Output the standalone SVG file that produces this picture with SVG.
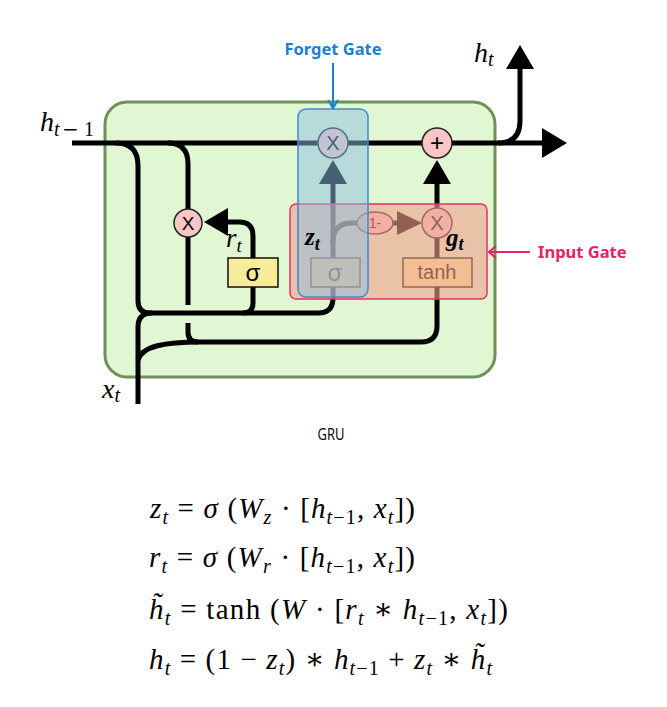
<svg xmlns="http://www.w3.org/2000/svg" width="667" height="707" viewBox="0 0 667 707">
<style>
.ln{fill:none;stroke:#000;stroke-width:5}
.ah{fill:#000}
.circ{fill:#f8c6c6;stroke:#222;stroke-width:1.5}
.sig{fill:#f7ec9a;stroke:#111;stroke-width:1.5}
.sym{font-family:"Liberation Sans","DejaVu Sans",sans-serif;text-anchor:middle}
.math{font-family:"Liberation Serif","DejaVu Serif",serif;font-style:italic}
.rm{font-style:normal}
.lbl{font-family:"Noto Sans","Open Sans",sans-serif;font-weight:bold;font-size:16.5px}
</style>
<rect width="667" height="707" fill="#fff"/>

<g id="cell">
<rect x="105" y="102" width="390" height="275" rx="22" fill="#e1f6d3" stroke="#6e9157" stroke-width="3"/>
</g>

<g id="connectors">
<path class="ln" d="M72 143 L545 143"/>
<polygon class="ah" points="542,128 567,143 542,158"/>
<path class="ln" d="M498 143 Q520 143 520 121 L520 68"/>
<polygon class="ah" points="506,69 520,45 534,69"/>
<path class="ln" d="M116 143 Q138 143 138 166 L138 301 Q138 313 150 313 L318 313 Q333 313 333 298 L333 287"/>
<path class="ln" d="M138 404 L138 327 Q138 313 152 313"/>
<path class="ln" d="M138 360 C142 346 165 342 200 342 L421 342 Q437 342 437 326 L437 287"/>
<path class="ln" d="M168 143 Q188 143 188 164 L188 209"/>
<path class="ln" d="M188 237 L188 305"/>
<path class="ln" d="M188 323 L188 332 Q188 342 198 342"/>
<path class="ln" d="M253 287 L253 303 Q253 313 243 313"/>
<path class="ln" d="M253 258 L253 236 Q253 222 239 222 L226 222"/>
<polygon class="ah" points="228,208 204,222 228,236"/>
<path class="ln" d="M333 258 L333 183"/>
<polygon class="ah" points="319,184 333,160 347,184"/>
<path class="ln" d="M333 242 Q333 223 352 223 L360 223"/>
<path class="ln" d="M392 223 L399 223"/>
<polygon class="ah" points="397,211 422,223 397,235"/>
<path class="ln" d="M437 208 L437 183"/>
<polygon class="ah" points="423,184 437,160 451,184"/>
<path class="ln" d="M437 258 L437 237"/>
</g>

<g id="mul_r">
<circle class="circ" cx="188" cy="223" r="14"/>
<text class="sym" x="188" y="230" font-size="19">X</text>
</g>
<g id="sigma_r">
<rect class="sig" x="228" y="258" width="50" height="29"/>
<text class="sym" x="253" y="281" font-size="24" font-family="DejaVu Sans">σ</text>
</g>
<g id="sigma_z">
<rect class="sig" x="311" y="258" width="49" height="29"/>
<text class="sym" x="335" y="281" font-size="24" font-family="DejaVu Sans">σ</text>
</g>
<g id="tanh">
<rect class="sig" x="403" y="258" width="69" height="29"/>
<text class="sym" x="437" y="279" font-size="20" font-family="DejaVu Sans">tanh</text>
</g>
<g id="one_minus">
<ellipse cx="375" cy="223" rx="18" ry="11" fill="#f8c6c6" stroke="#222" stroke-width="1.5"/>
<text class="sym" x="375" y="228" font-size="14">1-</text>
</g>
<g id="mul_g">
<circle class="circ" cx="437" cy="223" r="15"/>
<text class="sym" x="437" y="230" font-size="20">X</text>
</g>
<g id="mul_f">
<circle class="circ" cx="333" cy="143" r="15"/>
<text class="sym" x="333" y="150" font-size="20">X</text>
</g>
<g id="plus">
<circle class="circ" cx="437" cy="143" r="15"/>
<text class="sym" x="437" y="151" font-size="24">+</text>
</g>

<g id="input_gate">
<rect x="290" y="204" width="197" height="95" rx="6" fill="rgb(240,160,140)" fill-opacity="0.6" stroke="#e8306a" stroke-width="1.5"/>
<path d="M530 252 L489 252 M496 246 L489 252 L496 258" fill="none" stroke="#e6226c" stroke-width="2"/>
<text class="lbl" x="538" y="258" fill="#e6226c">Input Gate</text>
</g>
<g id="forget_gate">
<rect x="298" y="109" width="70" height="188" rx="8" fill="rgb(140,192,226)" fill-opacity="0.5" stroke="#3d8ad0" stroke-width="1.5"/>
<path d="M333 63 L333 108 M328 100 L333 108 L338 100" fill="none" stroke="#1a7fd4" stroke-width="2"/>
<text class="lbl" x="333" y="55" fill="#1a7fd4" text-anchor="middle">Forget Gate</text>
</g>

<g id="labels">
<text class="math" x="40" y="131" font-size="28">h</text>
<text class="math" y="136" font-size="20"><tspan x="54">t</tspan><tspan class="rm" x="62" font-family="DejaVu Serif">−</tspan><tspan class="rm" x="84">1</tspan></text>
<text class="math" x="474" y="62" font-size="28">h<tspan font-size="20" dy="4">t</tspan></text>
<text class="math" x="102" y="398" font-size="28">x<tspan font-size="20" dy="4">t</tspan></text>
<text class="math" x="226" y="247" font-size="27">r<tspan font-size="19" dy="5">t</tspan></text>
<text class="math" x="305" y="245" font-size="25" font-weight="bold">z<tspan font-size="18" dy="5">t</tspan></text>
<text class="math" x="446" y="246" font-size="25" font-weight="bold">g<tspan font-size="18" dy="4">t</tspan></text>
</g>

<text x="331" y="440" font-family="Open Sans,Noto Sans,sans-serif" font-size="17" text-anchor="middle" textLength="27" lengthAdjust="spacingAndGlyphs">GRU</text>

<g id="equations" class="math" font-size="29">
<text x="150" y="518" textLength="265" lengthAdjust="spacing">z<tspan font-size="20" dy="6">t</tspan><tspan class="rm" dy="-6"> = </tspan>σ<tspan class="rm"> (</tspan>W<tspan font-size="20" dy="6">z</tspan><tspan class="rm" dy="-6"> · [</tspan>h<tspan font-size="20" dy="6">t</tspan><tspan font-size="20" class="rm">−1</tspan><tspan class="rm" dy="-6">, </tspan>x<tspan font-size="20" dy="6">t</tspan><tspan class="rm" dy="-6">])</tspan></text>
<text x="149" y="567" textLength="266" lengthAdjust="spacing">r<tspan font-size="20" dy="6">t</tspan><tspan class="rm" dy="-6"> = </tspan>σ<tspan class="rm"> (</tspan>W<tspan font-size="20" dy="6">r</tspan><tspan class="rm" dy="-6"> · [</tspan>h<tspan font-size="20" dy="6">t</tspan><tspan font-size="20" class="rm">−1</tspan><tspan class="rm" dy="-6">, </tspan>x<tspan font-size="20" dy="6">t</tspan><tspan class="rm" dy="-6">])</tspan></text>
<text x="149" y="619" textLength="359" lengthAdjust="spacing">h̃<tspan font-size="20" dy="6">t</tspan><tspan class="rm" dy="-6"> = tanh (</tspan>W<tspan class="rm"> · [</tspan>r<tspan font-size="20" dy="6">t</tspan><tspan class="rm" dy="-6"> ∗ </tspan>h<tspan font-size="20" dy="6">t</tspan><tspan font-size="20" class="rm">−1</tspan><tspan class="rm" dy="-6">, </tspan>x<tspan font-size="20" dy="6">t</tspan><tspan class="rm" dy="-6">])</tspan></text>
<text x="149" y="669" textLength="343" lengthAdjust="spacing">h<tspan font-size="20" dy="6">t</tspan><tspan class="rm" dy="-6"> = (1 − </tspan>z<tspan font-size="20" dy="6">t</tspan><tspan class="rm" dy="-6">) ∗ </tspan>h<tspan font-size="20" dy="6">t</tspan><tspan font-size="20" class="rm">−1</tspan><tspan class="rm" dy="-6"> + </tspan>z<tspan font-size="20" dy="6">t</tspan><tspan class="rm" dy="-6"> ∗ </tspan>h̃<tspan font-size="20" dy="6">t</tspan></text>
</g>
</svg>
